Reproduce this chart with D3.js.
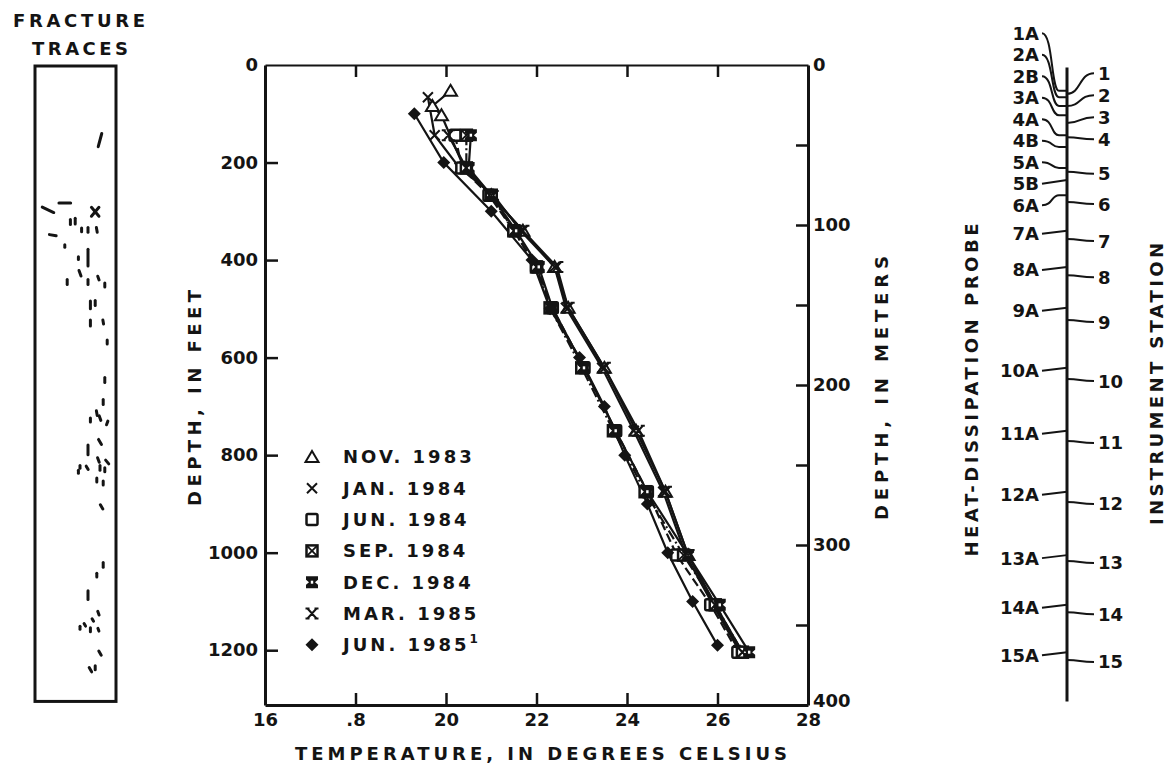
<!DOCTYPE html>
<html>
<head>
<meta charset="utf-8">
<script src="https://cdn.jsdelivr.net/npm/d3@7"></script>
<style>
  body { margin: 0; background: #fff; }
  svg text { font-family: "DejaVu Sans", sans-serif; font-weight: bold; fill: #141414; }
  .tick text { font-size: 18px; }
</style>
</head>
<body>
<div id="chart"></div>
<script>
var svgWidth = 1167;
var svgHeight = 768;

// Temperature axis and depth axes
var xTicks = [16, 18, 20, 22, 24, 26, 28];
var xTickLabels = ["16", ".8", "20", "22", "24", "26", "28"];
var feetTicks = [0, 200, 400, 600, 800, 1000, 1200];
var meterTicks = [0, 50, 100, 150, 200, 250, 300, 350, 400];

// Depth of heat-dissipation probes (feet) - HDP surveys are read at these
var probeNames = ["1A", "2A", "2B", "3A", "4A", "4B", "5A", "5B", "6A", "7A", "8A", "9A", "10A", "11A", "12A", "13A", "14A", "15A"];
var probeDepth = [53, 66, 84, 103, 144, 168, 211, 236, 267, 340, 414, 498, 621, 750, 875, 1005, 1107, 1204];

// Instrument stations (feet)
var stationNames = ["1", "2", "3", "4", "5", "6", "7", "8", "9", "10", "11", "12", "13", "14", "15"];
var stationDepth = [59, 84, 119, 148, 219, 281, 357, 431, 523, 644, 771, 896, 1017, 1122, 1220];

// Temperatures (deg C) per survey, aligned with probeDepth (null = not plotted)
var nov1983 = [20.1, null, 19.7, 19.9, null, null, 20.4, null, 21.0, 21.7, 22.4, 22.7, 23.5, 24.2, 24.85, 25.35, 25.95, 26.5];
var jan1984 = [null, 19.6, null, null, 19.75, null, 20.3, null, 21.05, 21.65, 22.4, 22.65, 23.45, 24.15, 24.8, 25.3, 25.9, 26.5];
var jun1984 = [null, null, null, null, 20.2, null, 20.35, null, 20.95, 21.5, 22.0, 22.35, 23.05, 23.75, 24.45, 25.1, 25.85, 26.45];
var sep1984 = [null, null, null, null, 20.45, null, 20.45, null, 21.0, 21.5, 22.0, 22.3, 23.0, 23.7, 24.4, 25.25, 25.95, 26.55];
var dec1984 = [null, null, null, null, 20.55, null, 20.5, null, 21.0, 21.55, 22.05, 22.35, 23.05, 23.75, 24.45, 25.35, 26.05, 26.7];
var mar1985 = [null, null, null, null, 20.05, null, 20.45, null, 21.0, 21.7, 22.45, 22.7, 23.5, 24.25, 24.85, 25.35, 25.95, 26.55];

// June 1985 log, 100-ft spacing
var jun1985Depth = [100, 200, 300, 400, 500, 600, 700, 800, 900, 1000, 1100, 1190];
var jun1985 = [19.3, 19.95, 21.0, 21.9, 22.3, 22.95, 23.5, 23.95, 24.45, 24.9, 25.45, 26.0];

var surveyNames = ["NOV. 1983", "JAN. 1984", "JUN. 1984", "SEP. 1984", "DEC. 1984", "MAR. 1985", "JUN. 1985"];

// Fracture traces: depth (ft), position across the log (0-1), tilt from vertical (deg), length (ft)
var fracDepth = [154, 297, 283, 301, 301, 322, 320, 338, 338, 338, 349, 371, 396, 395, 445, 427, 445, 437, 451, 492, 488, 529, 527, 568, 646,
  691, 714, 728, 724, 734, 773, 789, 810, 814, 824, 826, 834, 826, 830, 851, 857, 906, 1025, 1046, 1087, 1124, 1138, 1148, 1154, 1158, 1158, 1206, 1240, 1236];
var fracPos = [0.8, 0.15, 0.36, 0.74, 0.74, 0.43, 0.49, 0.57, 0.65, 0.76, 0.21, 0.36, 0.53, 0.65, 0.39, 0.55, 0.65, 0.78, 0.86, 0.68, 0.74, 0.68, 0.84, 0.89, 0.86,
  0.84, 0.76, 0.68, 0.8, 0.89, 0.8, 0.65, 0.78, 0.89, 0.55, 0.64, 0.53, 0.8, 0.86, 0.76, 0.84, 0.82, 0.84, 0.76, 0.65, 0.78, 0.71, 0.61, 0.55, 0.68, 0.78, 0.8, 0.68, 0.74];
var fracTilt = [-15, 65, 90, 40, -40, 0, 0, 0, 0, 10, 80, 0, 0, 0, 0, 20, 0, 20, 0, 0, 0, 0, 10, 0, 0,
  0, 10, 0, 20, -20, 30, 0, 20, 40, 0, 30, 0, 0, 0, 0, 0, 30, 0, 0, 0, 20, 30, 30, 0, 0, 20, 30, 30, 0];
var fracLen = [28, 26, 24, 24, 24, 10, 12, 8, 10, 10, 14, 5, 6, 34, 10, 12, 10, 8, 8, 16, 10, 12, 8, 8, 10,
  10, 10, 8, 10, 8, 12, 20, 10, 10, 6, 8, 6, 10, 8, 8, 8, 10, 10, 8, 18, 8, 6, 6, 6, 8, 6, 10, 10, 8];

var plot = { left: 265, right: 808, top: 65, bottom: 705 };

var svg = d3.select("#chart")
  .append("svg")
  .attr("width", svgWidth)
  .attr("height", svgHeight)
  .style("background", "#fff");

var x = d3.scaleLinear().domain([16, 28]).range([plot.left, plot.right]);
var yFt = d3.scaleLinear().domain([0, 400 / 0.3048]).range([plot.top, plot.bottom]);
var yM = d3.scaleLinear().domain([0, 400]).range([plot.top, plot.bottom]);

var ink = "#141414";

// ---------- axes (ticks point inward) ----------
function styleAxis(g, hideValues) {
  g.select(".domain").attr("stroke", ink).attr("stroke-width", 3);
  g.selectAll(".tick line").attr("stroke", ink).attr("stroke-width", 2.5)
    .attr("display", d => hideValues.indexOf(d) >= 0 ? "none" : null);
  g.selectAll(".tick text").attr("fill", ink);
}

var bottomAxis = svg.append("g")
  .attr("transform", `translate(0, ${plot.bottom})`)
  .call(d3.axisBottom(x).tickValues(xTicks).tickSize(-12).tickSizeOuter(0).tickPadding(8)
    .tickFormat((d, i) => xTickLabels[i]));
styleAxis(bottomAxis, [16, 28]);

var topAxis = svg.append("g")
  .attr("transform", `translate(0, ${plot.top})`)
  .call(d3.axisTop(x).tickValues([18, 20, 22, 24, 26]).tickSize(-12).tickSizeOuter(0).tickFormat(""));
styleAxis(topAxis, []);
topAxis.select(".domain").attr("stroke-width", 2);

var leftAxis = svg.append("g")
  .attr("transform", `translate(${plot.left}, 0)`)
  .call(d3.axisLeft(yFt).tickValues(feetTicks).tickSize(-13).tickSizeOuter(0).tickPadding(7)
    .tickFormat(d3.format("d")));
styleAxis(leftAxis, [0]);

var rightAxis = svg.append("g")
  .attr("transform", `translate(${plot.right}, 0)`)
  .call(d3.axisRight(yM).tickValues(meterTicks).tickSize(-12).tickSizeOuter(0).tickPadding(5)
    .tickFormat(d => d % 100 === 0 ? d : ""));
styleAxis(rightAxis, [0, 400]);
// the 400 label sits just above the 28 label, as in the original
rightAxis.selectAll(".tick text").filter(d => d === 400).attr("dy", "0.1em");

// axis titles
function title(txt, cx, cy, len, rotate) {
  var t = svg.append("text")
    .attr("text-anchor", "middle")
    .attr("font-size", 18)
    .attr("textLength", len)
    .attr("lengthAdjust", "spacing")
    .text(txt);
  if (rotate) t.attr("transform", `translate(${cx},${cy}) rotate(-90)`);
  else t.attr("x", cx).attr("y", cy);
  return t;
}
title("TEMPERATURE, IN DEGREES CELSIUS", 541, 760, 492, false);
title("DEPTH, IN FEET", 201, 398, 216, true);
title("DEPTH, IN METERS", 888, 388, 264, true);
title("HEAT-DISSIPATION PROBE", 978, 390, 333, true);
title("INSTRUMENT STATION", 1163, 384, 282, true);
title("FRACTURE", 79, 27, 132, false);
title("TRACES", 80, 55, 96, false);

// ---------- markers ----------
function marker(g, type) {
  var sw = 2;
  if (type === "triangle") {
    g.append("path").attr("d", "M0,-6L6.5,5L-6.5,5Z").attr("fill", "#fff").attr("stroke", ink).attr("stroke-width", sw);
  } else if (type === "x") {
    g.append("path").attr("d", "M-5,-5L5,5M5,-5L-5,5").attr("fill", "none").attr("stroke", ink).attr("stroke-width", sw);
  } else if (type === "square") {
    g.append("rect").attr("x", -5.5).attr("y", -5.5).attr("width", 11).attr("height", 11).attr("rx", 1.5)
      .attr("fill", "#fff").attr("stroke", ink).attr("stroke-width", sw + 0.5);
  } else if (type === "xsquare") {
    g.append("rect").attr("x", -5.5).attr("y", -5.5).attr("width", 11).attr("height", 11)
      .attr("fill", "#fff").attr("stroke", ink).attr("stroke-width", sw + 0.5);
    g.append("path").attr("d", "M-5,-5L5,5M5,-5L-5,5").attr("stroke", ink).attr("stroke-width", 1.8);
  } else if (type === "spool") {
    g.append("path").attr("d", "M-6,-6H6V-2.5L3,0L6,2.5V6H-6V2.5L-3,0L-6,-2.5Z").attr("fill", ink);
    g.append("rect").attr("x", -1.2).attr("y", -1.5).attr("width", 2.4).attr("height", 3).attr("fill", "#fff");
  } else if (type === "barx") {
    g.append("path").attr("d", "M-4.5,-5L4.5,5M4.5,-5L-4.5,5M-6.5,-5H-2.5M2.5,-5H6.5M-6.5,5H-2.5M2.5,5H6.5")
      .attr("fill", "none").attr("stroke", ink).attr("stroke-width", sw);
  } else if (type === "diamond") {
    g.append("path").attr("d", "M0,-6.5L6.5,0L0,6.5L-6.5,0Z").attr("fill", ink);
  }
}

// ---------- survey profiles ----------
var surveys = [
  { name: surveyNames[0], depth: probeDepth, temp: nov1983, mark: "triangle", dash: null },
  { name: surveyNames[1], depth: probeDepth, temp: jan1984, mark: "x", dash: null },
  { name: surveyNames[2], depth: probeDepth, temp: jun1984, mark: "square", dash: "9,4" },
  { name: surveyNames[3], depth: probeDepth, temp: sep1984, mark: "xsquare", dash: "10,3,2,3" },
  { name: surveyNames[4], depth: probeDepth, temp: dec1984, mark: "spool", dash: null },
  { name: surveyNames[5], depth: probeDepth, temp: mar1985, mark: "barx", dash: null },
  { name: surveyNames[6], depth: jun1985Depth, temp: jun1985, mark: "diamond", dash: null }
];

var line = d3.line().x(d => x(d.t)).y(d => yFt(d.d));

var profiles = svg.append("g");
surveys.forEach(function(s) {
  s.points = s.depth.map((d, i) => ({ d: d, t: s.temp[i] })).filter(p => p.t !== null);
  profiles.append("path")
    .datum(s.points)
    .attr("d", line)
    .attr("fill", "none")
    .attr("stroke", ink)
    .attr("stroke-width", 2.2)
    .attr("stroke-dasharray", s.dash);
});
surveys.forEach(function(s) {
  profiles.selectAll(null)
    .data(s.points)
    .enter()
    .append("g")
    .attr("transform", p => `translate(${x(p.t)},${yFt(p.d)})`)
    .each(function() { marker(d3.select(this), s.mark); });
});

// ---------- legend ----------
var legend = svg.append("g").attr("transform", "translate(312, 457)");
surveys.forEach(function(s, i) {
  var row = legend.append("g").attr("transform", `translate(0, ${i * 31.3})`);
  marker(row, s.mark);
  var t = row.append("text")
    .attr("x", 31)
    .attr("dy", "0.36em")
    .attr("font-size", 18)
    .attr("letter-spacing", 3)
    .text(s.name);
  if (i === surveys.length - 1) {
    t.append("tspan").attr("dy", -8).attr("font-size", 12).attr("letter-spacing", 0).text("1");
  }
});

// ---------- fracture traces log ----------
var logX = d3.scaleLinear().domain([0, 1]).range([36, 116]);
svg.append("rect")
  .attr("x", 35).attr("y", yFt(0) + 1)
  .attr("width", 81).attr("height", yFt(1305) - yFt(0) - 1)
  .attr("fill", "none").attr("stroke", ink).attr("stroke-width", 3);

var fracG = svg.append("g");
fracDepth.forEach(function(d, i) {
  var cx = logX(fracPos[i]), cy = yFt(d);
  var half = (yFt(fracLen[i]) - yFt(0)) / 2;
  var a = fracTilt[i] * Math.PI / 180;
  var dx = Math.sin(a) * half, dy = Math.cos(a) * half;
  fracG.append("line")
    .attr("x1", cx - dx).attr("y1", cy - dy)
    .attr("x2", cx + dx).attr("y2", cy + dy)
    .attr("stroke", ink).attr("stroke-width", 3).attr("stroke-linecap", "round");
});

// ---------- probe / station diagram ----------
var axisX = 1067;
var diagram = svg.append("g").attr("fill", "none").attr("stroke", ink);
diagram.append("line")
  .attr("x1", axisX).attr("x2", axisX)
  .attr("y1", yFt(5)).attr("y2", yFt(1305))
  .attr("stroke-width", 3);

// label positions, packed upward where ticks are crowded
var stationTickY = stationDepth.map(d => yFt(d));
var stationLabelY = stationTickY.slice();
for (var i = stationTickY.length - 1; i >= 0; i--) {
  var next = i === stationTickY.length - 1 ? Infinity : stationLabelY[i + 1] - 22;
  stationLabelY[i] = Math.min(stationTickY[i] + 2, next);
}
var probeTickY = probeDepth.map(d => yFt(d));
var probeLabelY = probeTickY.map(t => t + 3);
for (var j = 8; j >= 0; j--) {
  probeLabelY[j] = j === 8 ? probeTickY[j] + 10 : Math.min(probeTickY[j] + 10, probeLabelY[j + 1] - 21.5);
}

stationTickY.forEach(function(t, i) {
  var ly = stationLabelY[i];
  diagram.append("path")
    .attr("d", `M${axisX},${t}C${axisX + 14},${t} ${axisX + 12},${ly} ${axisX + 27},${ly}`)
    .attr("stroke-width", 2);
  svg.append("text")
    .attr("x", axisX + 31).attr("y", ly).attr("dy", "0.36em")
    .attr("font-size", 18)
    .text(stationNames[i]);
});

probeTickY.forEach(function(t, i) {
  var ly = probeLabelY[i];
  var d = Math.abs(ly - t) > 4
    ? `M${axisX},${t}H${axisX - 8}C${axisX - 16},${t} ${axisX - 14},${ly} ${axisX - 25},${ly}`
    : `M${axisX},${t}L${axisX - 25},${ly}`;
  diagram.append("path").attr("d", d).attr("stroke-width", 2);
  svg.append("text")
    .attr("x", axisX - 28).attr("y", ly).attr("dy", "0.36em")
    .attr("text-anchor", "end")
    .attr("font-size", 18)
    .text(probeNames[i]);
});
</script>
</body>
</html>
